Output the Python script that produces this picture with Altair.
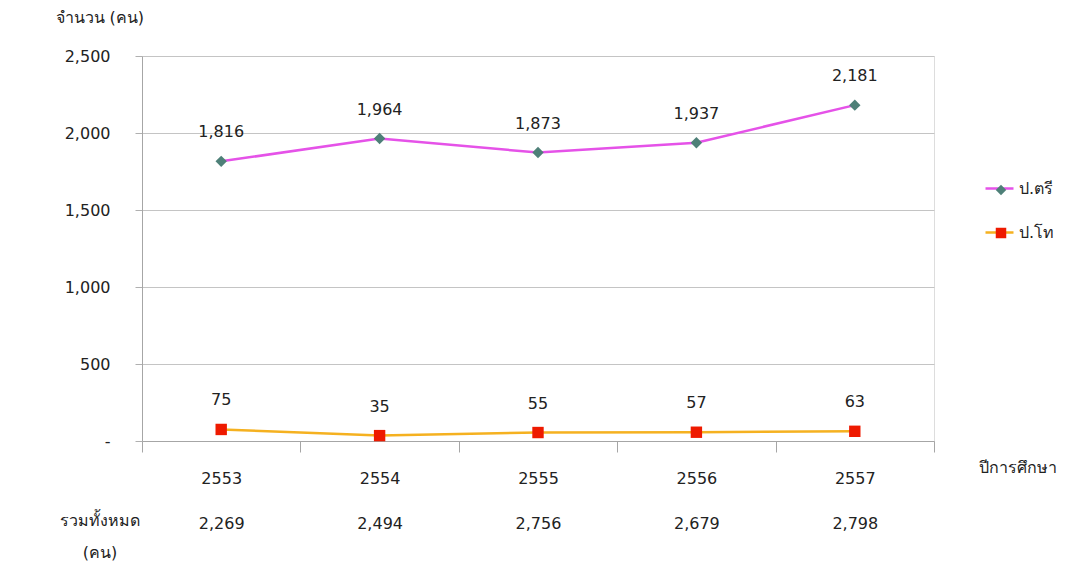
import altair as alt
import pandas as pd

years = ["2553", "2554", "2555", "2556", "2557"]
bachelor = [1816, 1964, 1873, 1937, 2181]
master = [75, 35, 55, 57, 63]
totals = ["2,269", "2,494", "2,756", "2,679", "2,798"]
series_names = ["ป.ตรี", "ป.โท"]

rows = []
for y, v in zip(years, bachelor):
    rows.append({"year": y, "series": series_names[0], "value": v})
for y, v in zip(years, master):
    rows.append({"year": y, "series": series_names[1], "value": v})
df = pd.DataFrame(rows)

FONT = "DejaVu Sans"
TXT = "#222222"

line_colors = ["#E552E8", "#F5B120"]
marker_colors = ["#4E8078", "#EE1A00"]

total_map = "{" + ",".join(f"'{y}':'{t}'" for y, t in zip(years, totals)) + "}"

x_enc = alt.X(
    "year:N",
    scale=alt.Scale(type="band", paddingInner=0, paddingOuter=0),
    axis=alt.Axis(
        title="ปีการศึกษา",
        titleAngle=0,
        titleX=836,
        titleY=26,
        titleAlign="left",
        titleBaseline="middle",
        titleFont=FONT,
        titleFontSize=16,
        titleFontWeight="normal",
        titleColor=TXT,
        labelAngle=0,
        labelExpr=f"[datum.label, {total_map}[datum.label]]",
        labelLineHeight=45,
        labelBaseline="top",
        labelPadding=18,
        labelFont=FONT,
        labelFontSize=16,
        labelColor=TXT,
        tickBand="extent",
        tickSize=11,
        tickColor="#A6A6A6",
        domainColor="#A6A6A6",
        grid=False,
    ),
)

y_enc = alt.Y(
    "value:Q",
    scale=alt.Scale(domain=[0, 2500]),
    axis=alt.Axis(
        values=[0, 500, 1000, 1500, 2000, 2500],
        labelExpr="datum.value == 0 ? '-\u00a0\u00a0\u00a0' : format(datum.value, ',')",
        title="จำนวน (คน)",
        titleAngle=0,
        titleX=-87,
        titleY=-39,
        titleAlign="left",
        titleBaseline="middle",
        titleFont=FONT,
        titleFontSize=16,
        titleFontWeight="normal",
        titleColor=TXT,
        labelFont=FONT,
        labelFontSize=16,
        labelColor=TXT,
        labelPadding=25,
        tickSize=7,
        tickColor="#B0B0B0",
        domainColor="#A6A6A6",
        gridColor="#C4C4C4",
    ),
)

base = alt.Chart(df)

lines = base.mark_line(strokeWidth=2.5).encode(
    x=x_enc,
    y=y_enc,
    color=alt.Color(
        "series:N",
        scale=alt.Scale(range=line_colors),
        legend=alt.Legend(
            title=None,
            orient="none",
            legendX=842,
            legendY=117,
            symbolType="stroke",
            symbolSize=784,
            symbolStrokeWidth=2.5,
            labelFont=FONT,
            labelFontSize=16,
            labelColor=TXT,
            labelOffset=4,
            rowPadding=20,
        ),
    ),
)

pt_legend = alt.Legend(
    title=None,
    orient="none",
    legendX=851,
    legendY=126,
    symbolSize=110,
    labelExpr="''",
    labelFont=FONT,
    labelFontSize=16,
    rowPadding=25,
)

points = base.transform_calculate(series_pt="datum.series").mark_point(
    filled=True, opacity=1
).encode(
    x=x_enc,
    y=y_enc,
    fill=alt.Fill("series_pt:N", scale=alt.Scale(range=marker_colors), legend=pt_legend),
    shape=alt.Shape("series_pt:N", scale=alt.Scale(range=["diamond", "square"]), legend=pt_legend),
    size=alt.value(130),
)

labels = base.mark_text(dy=-29, font=FONT, fontSize=16, color=TXT).encode(
    x=x_enc,
    y=y_enc,
    text=alt.Text("value:Q", format=","),
)

row_title = base.transform_filter("datum.year == '2553' && datum.series == 'ป.ตรี'").mark_text(
    font=FONT, fontSize=16, color=TXT, align="center", baseline="middle", lineHeight=32
).encode(
    x=alt.value(-42),
    y=alt.value(465),
    text=alt.value(["รวมทั้งหมด", "(คน)"]),
)

chart = (
    alt.layer(lines, points, labels, row_title)
    .resolve_scale(color="independent", fill="independent", shape="independent")
    .properties(
        width=792,
        height=385,
        autosize=alt.AutoSizeParams(type="none"),
        padding={"left": 134, "top": 48, "right": 143, "bottom": 122},
    )
    .configure_view(stroke=None)
    .configure(background="white")
)

chart.save("out.html", embed_options={"renderer": "svg", "actions": False})
